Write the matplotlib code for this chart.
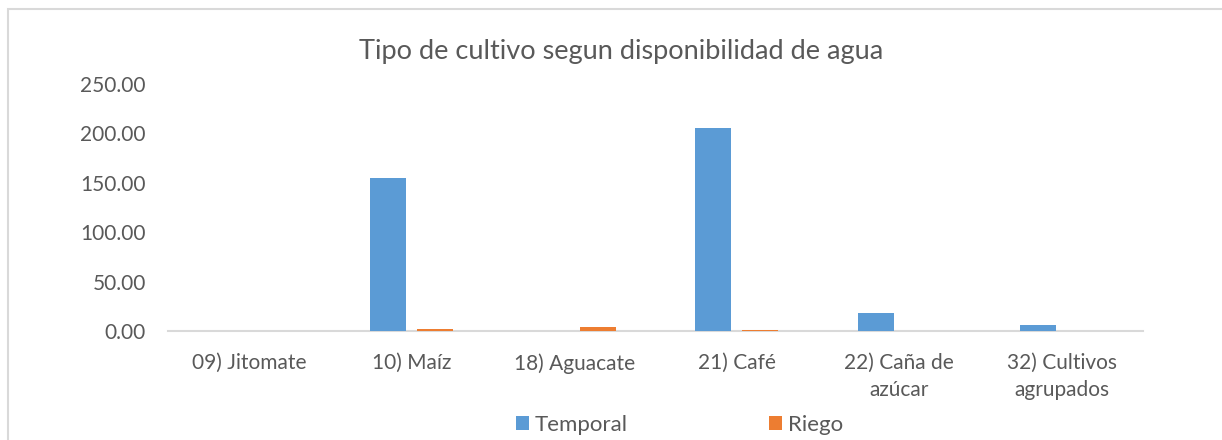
import matplotlib.pyplot as plt
from matplotlib.patches import Rectangle
import numpy as np

categories = ["09) Jitomate", "10) Maíz", "18) Aguacate", "21) Café",
              "22) Caña de\nazúcar", "32) Cultivos\nagrupados"]
temporal = [0.0, 155.0, 0.0, 205.0, 18.0, 6.0]
riego = [0.0, 2.0, 4.0, 0.7, 0.0, 0.0]

plt.rcParams["font.family"] = ["Lato", "DejaVu Sans"]
text_color = "#595959"

fig = plt.figure(figsize=(12.22, 4.40), dpi=100)
ax = fig.add_axes([168 / 1222, 1 - 331 / 440, (1143 - 168) / 1222, (331 - 84) / 440])

x = np.arange(len(categories))
width = 0.22
ax.bar(x - 0.145, temporal, width, color="#5b9bd5", label="Temporal", zorder=3)
ax.bar(x + 0.145, riego, width, color="#ed7d31", label="Riego", zorder=3)

ax.set_xlim(-0.5, len(categories) - 0.5)
ax.set_ylim(0, 250)
ax.set_yticks(np.arange(0, 251, 50))
ax.set_yticklabels([f"{v:.2f}" for v in np.arange(0, 251, 50)])
ax.set_xticks(x)
ax.set_xticklabels(categories, linespacing=1.45)

for side in ["top", "right", "left"]:
    ax.spines[side].set_visible(False)
ax.spines["bottom"].set_color("#d9d9d9")
ax.spines["bottom"].set_linewidth(1.5)
ax.spines["bottom"].set_zorder(2)
ax.tick_params(axis="both", length=0, labelsize=15, colors=text_color)
ax.tick_params(axis="x", pad=16)
ax.tick_params(axis="y", pad=16)

fig.text(0.508, 1 - 52 / 440, "Tipo de cultivo segun disponibilidad de agua",
         ha="center", va="center", fontsize=19.5, color=text_color)

fig.legend(loc="center", bbox_to_anchor=(0.556, 1 - 425 / 440), ncol=2,
           frameon=False, fontsize=16, labelcolor=text_color,
           handlelength=0.6, handleheight=0.6, handletextpad=0.25,
           columnspacing=6.35)

# chart border
fig.patches.append(Rectangle((8 / 1222, -0.1), 1.2, 1 - 9 / 440 + 0.1,
                             transform=fig.transFigure, fill=False,
                             edgecolor="#d9d9d9", linewidth=1.5))

fig.savefig("out.png", dpi=100)
